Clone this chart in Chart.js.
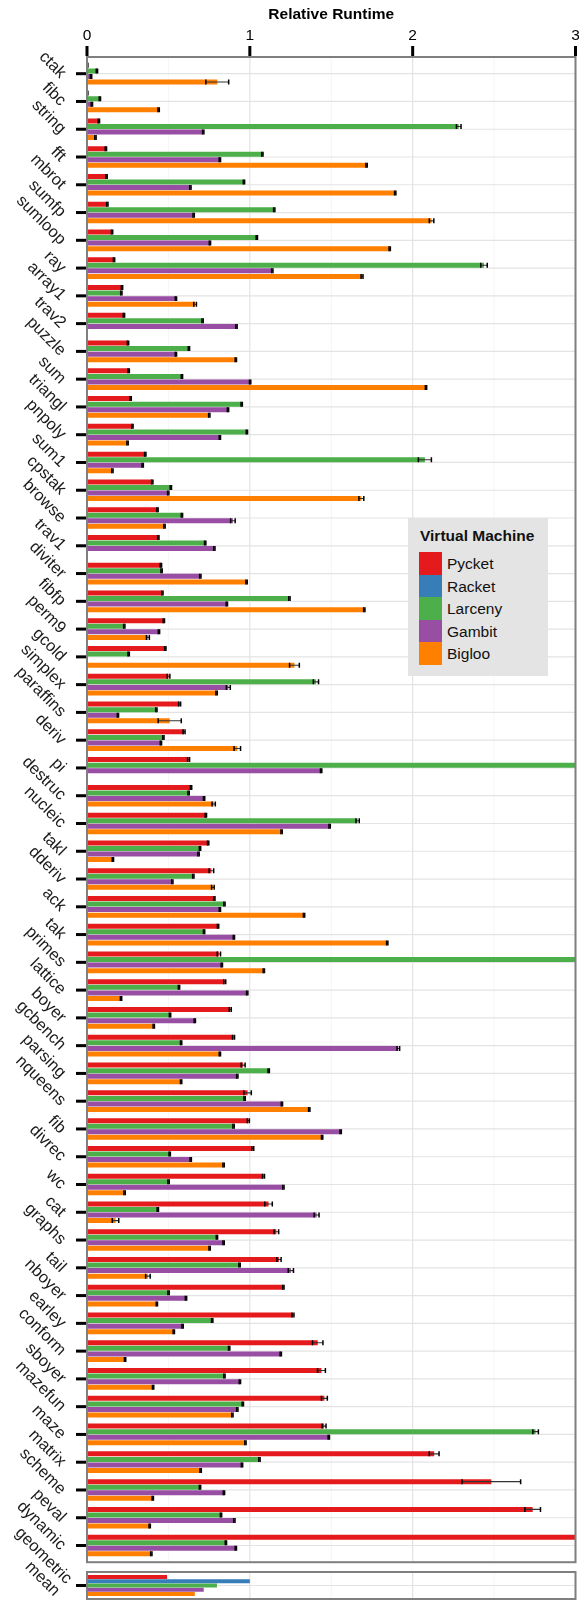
<!DOCTYPE html>
<html>
<head>
<meta charset="utf-8">
<script src="https://cdn.jsdelivr.net/npm/chart.js@4.4.1/dist/chart.umd.min.js"></script>
<style>
    body { margin: 0; background: #fff; font-family: "Liberation Sans", Arial, sans-serif; overflow: hidden; }
    #wrap { position: relative; width: 579px; height: 1604px; }
    #mainChart { position: absolute; left: 0; top: 0; }
    #meanChart { position: absolute; left: 0; top: 1480px; }
    #legend { position: absolute; left: 408px; top: 518px; width: 140px; height: 158px; background: #e4e4e4; }
    #legend .title { position: absolute; left: 12px; top: 8px; font-weight: bold; font-size: 15.5px; line-height: 19px; color: #111; }
    #legend .key { position: absolute; left: 11px; width: 23px; height: 23px; }
    #legend .lab { position: absolute; left: 39px; font-size: 15.5px; line-height: 23px; color: #111; }
</style>
</head>
<body>
<div id="wrap">
    <canvas id="mainChart" width="579" height="1566"></canvas>
    <canvas id="meanChart" width="579" height="124"></canvas>
    <div id="legend"></div>
</div>
<script>
// Benchmarks, ordered by Pycket runtime
const benchmarks = ['ctak','fibc','string','fft','mbrot','sumfp','sumloop','ray','array1','trav2',
    'puzzle','sum','triangl','pnpoly','sum1','cpstak','browse','trav1','diviter','fibfp',
    'perm9','gcold','simplex','paraffins','deriv','pi','destruc','nucleic','takl','dderiv',
    'ack','tak','primes','lattice','boyer','gcbench','parsing','nqueens','fib','divrec',
    'wc','cat','graphs','tail','nboyer','earley','conform','sboyer','mazefun','maze',
    'matrix','scheme','peval','dynamic'];

const pycket = [0.004,0.004,0.073,0.116,0.120,0.125,0.154,0.166,0.215,0.227,
    0.252,0.256,0.268,0.279,0.358,0.401,0.433,0.438,0.454,0.463,
    0.472,0.481,0.501,0.569,0.596,0.624,0.639,0.730,0.744,0.764,
    0.782,0.805,0.810,0.846,0.880,0.900,0.959,0.986,0.991,1.018,
    1.084,1.115,1.163,1.179,1.206,1.265,1.417,1.440,1.458,1.456,
    2.132,2.483,2.737,3.400];
const larceny = [0.061,0.079,2.283,1.077,0.964,1.150,1.043,2.438,0.211,0.710,
    0.626,0.583,0.950,0.982,2.075,0.515,0.583,0.726,0.458,1.243,
    0.229,0.256,1.406,0.426,0.469,3.500,0.624,1.662,0.694,0.653,
    0.844,0.719,3.500,0.565,0.510,0.578,1.116,0.968,0.900,0.508,
    0.501,0.435,0.798,0.937,0.501,0.769,0.873,0.844,0.957,2.755,
    1.059,0.694,0.823,0.853];
const gambit = [0.025,0.030,0.714,0.816,0.635,0.655,0.755,1.138,0.546,0.918,
    0.546,1.002,0.866,0.816,0.342,0.499,0.896,0.782,0.696,0.859,
    0.442,null,0.868,0.190,0.454,1.438,0.719,1.490,0.685,0.524,
    0.816,0.902,0.828,0.984,0.662,1.912,0.923,1.197,1.558,0.637,
    1.206,1.410,0.839,1.252,0.608,0.587,1.190,0.939,0.923,1.485,
    0.952,0.841,0.905,0.914];
const bigloo = [0.800,0.440,0.052,1.717,1.893,2.116,1.859,1.689,0.664,null,
    0.914,2.082,0.751,0.249,0.156,1.685,0.476,null,0.980,1.703,
    0.374,1.274,0.796,0.508,0.923,null,0.778,1.195,0.159,0.773,
    1.333,1.844,1.086,0.209,0.410,0.816,0.578,1.365,1.444,0.839,
    0.231,0.175,0.753,0.374,0.429,0.533,0.234,0.406,0.893,0.973,
    0.698,0.404,0.385,0.395];

// Error bar half-widths
const pycketErr = [0,0,0.004,0.004,0.004,0.004,0.004,0.004,0.004,0.004,
    0.004,0.004,0.004,0.004,0.004,0.004,0.004,0.004,0.004,0.004,
    0.004,0.004,0.008,0.006,0.006,0.006,0.004,0.004,0.004,0.014,
    0.004,0.004,0.010,0.006,0.006,0.006,0.012,0.023,0.006,0.006,
    0.006,0.023,0.014,0.013,0.004,0.006,0.032,0.024,0.018,0.012,
    0.030,0.180,0.048,0.010];
const larcenyErr = [0.004,0.004,0.014,0.004,0.004,0.004,0.004,0.020,0.004,0.004,
    0.004,0.004,0.004,0.004,0.040,0.004,0.004,0.004,0.004,0.004,
    0.004,0.004,0.016,0.004,0.004,0.004,0.004,0.010,0.004,0.004,
    0.004,0.004,0.004,0.004,0.004,0.004,0.004,0.004,0.004,0.004,
    0.004,0.004,0.004,0.004,0.004,0.004,0.004,0.004,0.004,0.017,
    0.004,0.004,0.004,0.004];
const gambitErr = [0.004,0.004,0.004,0.004,0.004,0.004,0.004,0.004,0.004,0.004,
    0.004,0.004,0.004,0.004,0.004,0.004,0.014,0.004,0.004,0.004,
    0.004,0,0.012,0.004,0.004,0.004,0.004,0.004,0.004,0.004,
    0.004,0.004,0.004,0.004,0.004,0.008,0.004,0.004,0.004,0.004,
    0.004,0.015,0.004,0.016,0.004,0.004,0.004,0.004,0.004,0.004,
    0.004,0.004,0.004,0.004];
const biglooErr = [0.070,0.004,0.004,0.004,0.004,0.014,0.004,0.006,0.008,0,
    0.004,0.004,0.004,0.004,0.004,0.015,0.004,0,0.004,0.004,
    0.009,0.030,0.004,0.071,0.020,0,0.010,0.004,0.004,0.008,
    0.004,0.004,0.004,0.004,0.004,0.004,0.004,0.004,0.004,0.004,
    0.004,0.020,0.004,0.014,0.004,0.004,0.004,0.004,0.004,0.004,
    0.004,0.004,0.004,0.004];

// Geometric mean panel
const meanLabel = [['geometric', 'mean']];
const meanVMs = ['Pycket', 'Racket', 'Larceny', 'Gambit', 'Bigloo'];
const meanValues = [0.492, 1.0, 0.798, 0.717, 0.662];

const vmColors = {
    Pycket: '#E41A1C',
    Racket: '#377EB8',
    Larceny: '#4DAF4A',
    Gambit: '#984EA3',
    Bigloo: '#FF7F00'
};
const xTicks = [0, 1, 2, 3];
const xMinor = [0.5, 1.5, 2.5];

const FONT = '"Liberation Sans", Arial, Helvetica, sans-serif';

function line(ctx, x1, y1, x2, y2) {
    ctx.beginPath();
    ctx.moveTo(x1, y1);
    ctx.lineTo(x2, y2);
    ctx.stroke();
}

// ggplot-like panel: grid, frame, tick marks, rotated labels, error bars
const panelDecor = {
    id: 'panelDecor',
    beforeDatasetsDraw(chart, args, opts) {
        const {ctx, chartArea: a, scales: {x, y}} = chart;
        const top = a.top - opts.pad, bottom = a.bottom + opts.pad;
        ctx.save();
        ctx.strokeStyle = '#f2f2f2';
        ctx.lineWidth = 0.8;
        xMinor.forEach(v => { const px = x.getPixelForValue(v); line(ctx, px, top, px, bottom); });
        ctx.strokeStyle = '#e3e3e3';
        ctx.lineWidth = 1.2;
        xTicks.forEach(v => { const px = x.getPixelForValue(v); line(ctx, px, top, px, bottom); });
        chart.data.labels.forEach((l, i) => {
            const py = y.getPixelForValue(i);
            line(ctx, a.left, py, a.right, py);
        });
        ctx.restore();
    },
    afterDatasetsDraw(chart, args, opts) {
        const {ctx, chartArea: a, scales: {x, y}} = chart;
        const top = a.top - opts.pad, bottom = a.bottom + opts.pad;

        // error bars
        ctx.save();
        ctx.beginPath();
        ctx.rect(a.left, a.top - opts.pad, a.right - a.left, a.bottom - a.top + 2 * opts.pad);
        ctx.clip();
        chart.data.datasets.forEach((ds, i) => {
            if (!ds.errors) return;
            const meta = chart.getDatasetMeta(i);
            meta.data.forEach((bar, j) => {
                const v = ds.data[j];
                if (v === null || v > 3) return;
                const e = ds.errors[j];
                const h = bar.height;
                const lo = x.getPixelForValue(v - e), hi = x.getPixelForValue(v + e);
                ctx.strokeStyle = '#333';
                ctx.lineWidth = 1.1;
                line(ctx, lo, bar.y, hi, bar.y);
                ctx.strokeStyle = '#000';
                ctx.lineWidth = 1.5;
                line(ctx, lo, bar.y - h / 2, lo, bar.y + h / 2);
                line(ctx, hi, bar.y - h / 2, hi, bar.y + h / 2);
            });
        });
        ctx.restore();

        // frame
        ctx.save();
        ctx.strokeStyle = '#7f7f7f';
        ctx.lineWidth = 2;
        ctx.strokeRect(a.left, top, a.right - a.left, bottom - top);

        // top tick marks
        if (opts.xTickMarks) {
            ctx.strokeStyle = '#000';
            ctx.lineWidth = 3;
            xTicks.forEach(v => { const px = x.getPixelForValue(v); line(ctx, px, top - 11, px, top - 1); });
        }

        // category tick marks and rotated labels
        ctx.font = '16.5px ' + FONT;
        ctx.fillStyle = '#1a1a1a';
        ctx.textAlign = 'right';
        ctx.textBaseline = 'middle';
        chart.data.labels.forEach((lab, i) => {
            const py = y.getPixelForValue(i);
            ctx.strokeStyle = '#000';
            ctx.lineWidth = 3;
            line(ctx, a.left - 11, py, a.left - 1, py);
            const lines = Array.isArray(lab) ? lab : [lab];
            ctx.save();
            ctx.translate(a.left - 24, py + 2);
            ctx.rotate(Math.PI / 4);
            lines.forEach((t, k) => ctx.fillText(t, 0, (k - (lines.length - 1) / 2) * 17));
            ctx.restore();
        });
        ctx.restore();
    }
};

function makeDataset(name, values, errors) {
    return {
        label: name,
        data: values,
        errors: errors,
        backgroundColor: vmColors[name],
        borderWidth: 0
    };
}

// Main panel
new Chart(document.getElementById('mainChart').getContext('2d'), {
    type: 'bar',
    data: {
        labels: benchmarks,
        datasets: [
            makeDataset('Pycket', pycket, pycketErr),
            makeDataset('Larceny', larceny, larcenyErr),
            makeDataset('Gambit', gambit, gambitErr),
            makeDataset('Bigloo', bigloo, biglooErr)
        ]
    },
    options: {
        indexAxis: 'y',
        responsive: false,
        animation: false,
        datasets: { bar: { categoryPercentage: 0.8, barPercentage: 0.9 } },
        layout: { padding: { top: 0, right: 3.5, bottom: 6.6, left: 0 } },
        plugins: {
            legend: { display: false },
            tooltip: { enabled: false },
            panelDecor: { pad: 2.8, xTickMarks: true }
        },
        scales: {
            x: {
                position: 'top',
                min: 0,
                max: 3,
                ticks: {
                    stepSize: 1,
                    padding: 0,
                    color: '#000',
                    font: { family: FONT, size: 15.5 },
                    maxRotation: 0
                },
                grid: { display: false, drawTicks: true, tickLength: 15 },
                border: { display: false },
                title: {
                    display: true,
                    text: 'Relative Runtime',
                    color: '#000',
                    font: { family: FONT, size: 15.5, weight: 'bold' },
                    padding: { top: 5, bottom: 0 }
                },
                afterFit(scale) {
                    scale.height = 59.8;
                    scale.paddingLeft = 0;
                    scale.paddingRight = 0;
                }
            },
            y: {
                ticks: { display: false },
                grid: { display: false },
                border: { display: false },
                afterFit(scale) { scale.width = 87; }
            }
        }
    },
    plugins: [panelDecor]
});

// Geometric mean panel
new Chart(document.getElementById('meanChart').getContext('2d'), {
    type: 'bar',
    data: {
        labels: meanLabel,
        datasets: meanVMs.map((vm, i) => ({
            label: vm,
            data: [meanValues[i]],
            backgroundColor: vmColors[vm],
            borderWidth: 0
        }))
    },
    options: {
        indexAxis: 'y',
        responsive: false,
        animation: false,
        datasets: { bar: { categoryPercentage: 0.78, barPercentage: 0.95 } },
        layout: { padding: { top: 92, right: 3.5, bottom: 5, left: 0 } },
        plugins: {
            legend: { display: false },
            tooltip: { enabled: false },
            panelDecor: { pad: 0, xTickMarks: false }
        },
        scales: {
            x: { display: false, min: 0, max: 3 },
            y: {
                ticks: { display: false },
                grid: { display: false },
                border: { display: false },
                afterFit(scale) { scale.width = 87; }
            }
        }
    },
    plugins: [panelDecor]
});

// Legend box
const legend = document.getElementById('legend');
legend.innerHTML = '<div class="title">Virtual Machine</div>';
meanVMs.forEach((vm, i) => {
    const top = 34 + i * 22.6;
    legend.innerHTML += `<div class="key" style="top:${top}px;background:${vmColors[vm]}"></div>` +
        `<div class="lab" style="top:${top}px">${vm}</div>`;
});
</script>
</body>
</html>
